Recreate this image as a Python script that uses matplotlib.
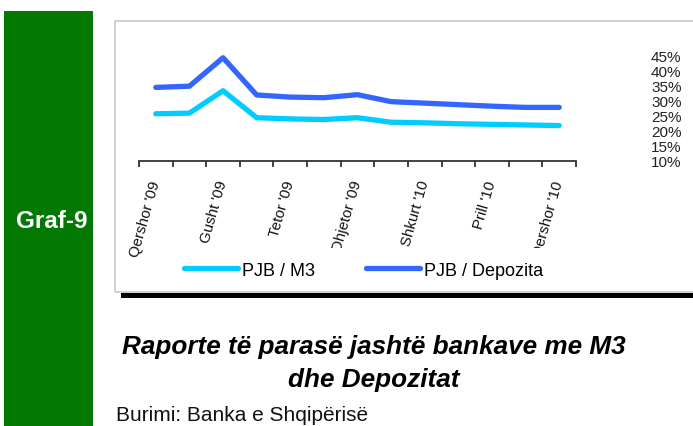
import matplotlib
matplotlib.use("Agg")
import matplotlib.pyplot as plt
from matplotlib.patches import Rectangle
import numpy as np

plt.rcParams['font.family'] = ['Liberation Sans', 'DejaVu Sans']

months = ["Qershor '09", "Korrik '09", "Gusht '09", "Shtator '09", "Tetor '09",
          "Nëntor '09", "Dhjetor '09", "Janar '10", "Shkurt '10", "Mars '10",
          "Prill '10", "Maj '10", "Qershor '10"]
pjb_m3 = [25.6, 25.8, 33.2, 24.3, 23.9, 23.7, 24.3, 22.8, 22.6, 22.3, 22.1, 21.9, 21.7]
pjb_dep = [34.3, 34.7, 44.1, 31.8, 31.1, 30.9, 31.9, 29.6, 29.1, 28.6, 28.1, 27.7, 27.7]
y_ticks = [10, 15, 20, 25, 30, 35, 40, 45]
series_names = ["PJB / M3", "PJB / Depozita"]

W, H = 693, 427
fig = plt.figure(figsize=(W / 100, H / 100), dpi=100)

def fx(px):
    return px / W

def fy(py):
    return 1 - py / H

# green side bar
fig.patches.append(Rectangle((fx(4), fy(427)), fx(93) - fx(4), fy(12) - fy(427),
                             transform=fig.transFigure, facecolor='#037803',
                             edgecolor='none', zorder=0))
fig.text(fx(52), fy(222), "Graf-9", color='white', fontsize=17.5,
         fontweight='bold', ha='center', va='center')

# chart box (white fill below, grey border above everything)
fig.patches.append(Rectangle((fx(115), fy(293)), fx(720) - fx(115), fy(22) - fy(293),
                             transform=fig.transFigure, facecolor='white',
                             edgecolor='none', zorder=0))
fig.patches.append(Rectangle((fx(115), fy(293)), fx(720) - fx(115), fy(22) - fy(293),
                             transform=fig.transFigure, facecolor='none',
                             edgecolor='#C8C8C8', linewidth=1.2, zorder=20))
fig.patches.append(Rectangle((fx(121), fy(298.5)), fx(700) - fx(121), fy(293.5) - fy(298.5),
                             transform=fig.transFigure, facecolor='black',
                             edgecolor='none', zorder=21))

ax = fig.add_axes([fx(139), fy(162), fx(576) - fx(139), fy(56) - fy(162)])
ax.set_zorder(5)
ax.set_facecolor('none')
x = np.arange(len(months))
l1, = ax.plot(x, pjb_m3, color='#00CCFF', lw=3.8, solid_capstyle='round',
              solid_joinstyle='round', label=series_names[0])
l2, = ax.plot(x, pjb_dep, color='#3366FF', lw=3.8, solid_capstyle='round',
              solid_joinstyle='round', label=series_names[1])

ax.set_xlim(-0.5, len(months) - 0.5)
ax.set_ylim(10, 45)
for s in ['top', 'left', 'right']:
    ax.spines[s].set_visible(False)
ax.spines['bottom'].set_color('#333333')
ax.spines['bottom'].set_linewidth(1.3)

ax.set_xticks(x[::2])
ax.set_xticklabels(months[::2], rotation=74, ha='right', va='center',
                   rotation_mode='anchor', fontsize=10.8, color='#111111')
ax.tick_params(axis='x', which='major', length=0, pad=14)
ax.set_xticks(np.arange(-0.5, len(months), 1.0), minor=True)
ax.tick_params(axis='x', which='minor', length=4.5, width=1.3, color='#333333', direction='out')

ax.yaxis.tick_right()
ax.set_yticks(y_ticks)
ax.set_yticklabels([f"{v}%" for v in y_ticks], fontsize=11, color='#222222')
ax.tick_params(axis='y', length=0, pad=54)

leg = ax.legend(handles=[l1, l2], ncol=2, loc='center left',
                bbox_to_anchor=(fx(170), fy(271)), bbox_transform=fig.transFigure,
                fontsize=13, frameon=True, fancybox=False, facecolor='white',
                edgecolor='none', framealpha=1, handlelength=3.0,
                handletextpad=0.25, columnspacing=2.8, borderpad=0.75,
                borderaxespad=0)
leg.set_zorder(10)

fig.text(fx(374), fy(347), "Raporte të parasë jashtë bankave me M3", fontsize=18.8,
         fontstyle='italic', fontweight='bold', ha='center', va='center')
fig.text(fx(374), fy(380), "dhe Depozitat", fontsize=18.8,
         fontstyle='italic', fontweight='bold', ha='center', va='center')
fig.text(fx(116), fy(416), "Burimi: Banka e Shqipërisë", fontsize=15,
         ha='left', va='center', color='#111111')

fig.savefig("out.png", dpi=100)
